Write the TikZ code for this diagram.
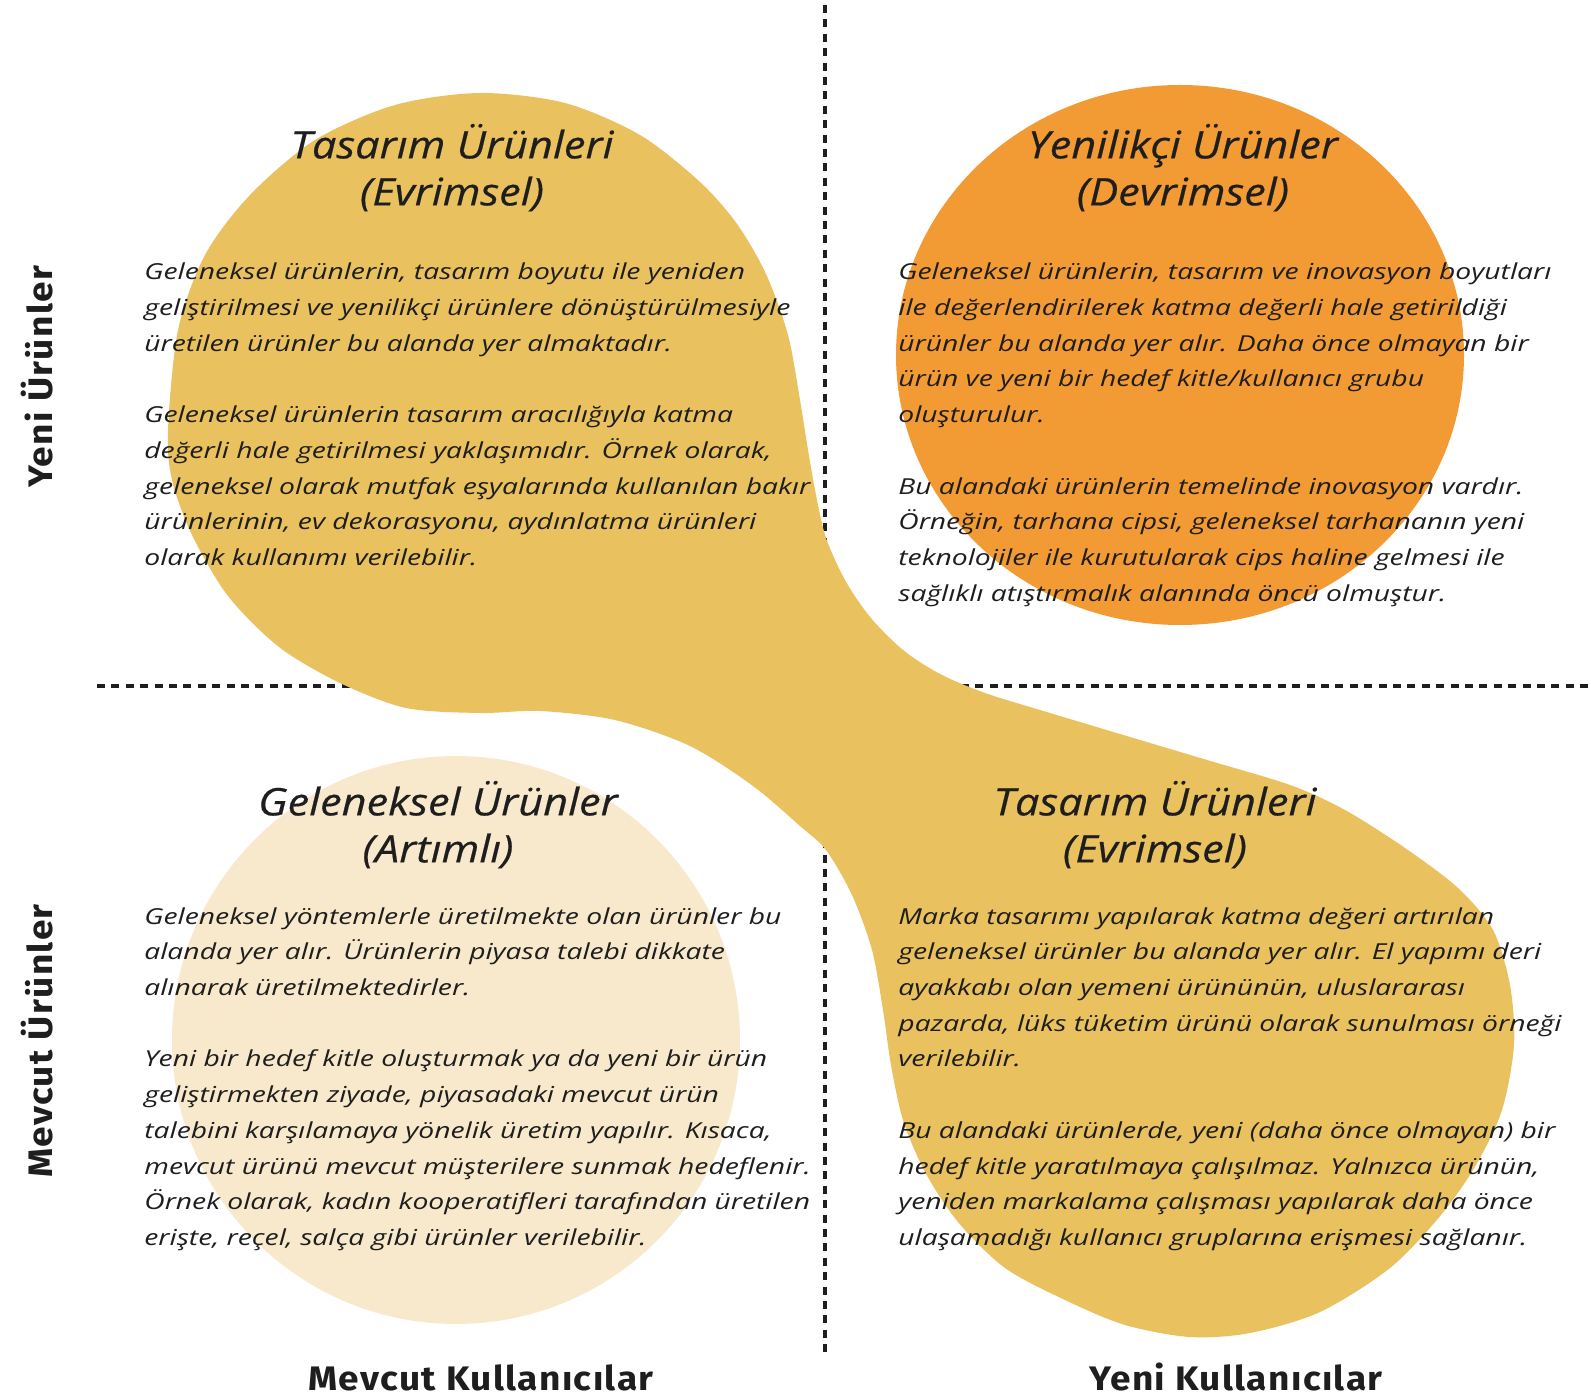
\documentclass[tikz,border=0pt]{standalone}
\usepackage{fontspec}
\setmainfont{Open Sans}
\newfontfamily\bodyfont{Open Sans}[FakeStretch=1.285]
\newfontfamily\headfont{Open Sans}[FakeBold=0.4,FakeStretch=1.14]
\newfontfamily\axisfont{Fira Sans}[LetterSpace=4,FakeStretch=1.09]
\definecolor{blobyellow}{HTML}{E9C15E}
\definecolor{orangec}{HTML}{F29A33}
\definecolor{beigec}{HTML}{F8E9CC}
\definecolor{inkc}{HTML}{1E1E1E}
\newcommand{\bstrut}{\rule{0pt}{16pt}}
\newcommand{\hstrut}{\rule{0pt}{24pt}}
\begin{document}
\begin{tikzpicture}[x=0.5pt,y=-0.5pt,
  body/.style={font=\bodyfont\itshape\fontsize{11}{17.85}\selectfont, text=inkc, align=left, anchor=north west, inner sep=0pt},
  head/.style={font=\headfont\itshape\fontsize{19}{23.5}\selectfont, text=inkc, align=center, anchor=north, inner sep=0pt},
  axislabel/.style={font=\axisfont\bfseries\fontsize{17}{20}\selectfont, text=inkc, inner sep=0pt},
  guide/.style={draw=inkc, line width=2pt, dash pattern=on 4pt off 3.2pt}]
\useasboundingbox (0,0) rectangle (1591,1400);
\fill[white] (0,0) rectangle (1591,1400);

% guide lines
\coordinate (vtop) at (825,5);
\coordinate (vbot) at (825,1355);
\coordinate (hleft) at (97,686);
\coordinate (hright) at (1591,686);
\draw[guide] (vtop) -- (vbot);
\draw[guide] (hleft) -- (hright);

% yellow blob
\fill[blobyellow] plot[smooth cycle, tension=0.5] coordinates {
 (168,430) (178,330) (205,255) (250,195) (315,140) (395,105) (480,93) (565,103)
 (640,135) (700,182) (737,224) (766,274) (788,335) (800,400) (808,450) (816,495) (826,538)
 (845,580) (870,617) (903,650) (940,674) (985,693) (1040,710) (1120,734) (1207,760)
 (1290,785) (1345,810) (1405,848) (1458,888) (1493,930) (1510,985) (1514,1045)
 (1502,1110) (1476,1165) (1441,1215) (1390,1268) (1320,1312) (1250,1333) (1190,1337)
 (1125,1325) (1065,1300) (1005,1268) (958,1222) (925,1172) (903,1120) (891,1065)
 (883,1010) (872,950) (852,895) (826,850) (800,826) (753,786) (690,746) (615,720)
 (540,711) (480,713) (406,708) (340,683) (279,647) (228,596) (192,535) (172,480)};

% orange and beige circles
\fill[orangec] (1180,355) ellipse [x radius=284, y radius=270];
\fill[beigec] (456,1040) circle [radius=284];

% headings
\node[head] (h1) at (452,110) {\hstrut Tasarım Ürünleri\\(Evrimsel)};
\node[head] (h2) at (1183,110) {\hstrut Yenilikçi Ürünler\\(Devrimsel)};
\node[head] (h3) at (438,767) {\hstrut Geleneksel Ürünler\\(Artımlı)};
\node[head] (h4) at (1155,767) {\hstrut Tasarım Ürünleri\\(Evrimsel)};

% body texts
\node[body] (b1) at (144,247.5) {\bstrut Geleneksel ürünlerin, tasarım boyutu ile yeniden\\
geliştirilmesi ve yenilikçi ürünlere dönüştürülmesiyle\\
üretilen ürünler bu alanda yer almaktadır.\\[17.85pt]
Geleneksel ürünlerin tasarım aracılığıyla katma\\
değerli hale getirilmesi yaklaşımıdır. Örnek olarak,\\
geleneksel olarak mutfak eşyalarında kullanılan bakır\\
ürünlerinin, ev dekorasyonu, aydınlatma ürünleri\\
olarak kullanımı verilebilir.};

\node[body] (b2) at (898,247.5) {\bstrut Geleneksel ürünlerin, tasarım ve inovasyon boyutları\\
ile değerlendirilerek katma değerli hale getirildiği\\
ürünler bu alanda yer alır. Daha önce olmayan bir\\
ürün ve yeni bir hedef kitle/kullanıcı grubu\\
oluşturulur.\\[17.85pt]
Bu alandaki ürünlerin temelinde inovasyon vardır.\\
Örneğin, tarhana cipsi, geleneksel tarhananın yeni\\
teknolojiler ile kurutularak cips haline gelmesi ile\\
sağlıklı atıştırmalık alanında öncü olmuştur.};

\node[body] (b3) at (144,891.7) {\bstrut Geleneksel yöntemlerle üretilmekte olan ürünler bu\\
alanda yer alır. Ürünlerin piyasa talebi dikkate\\
alınarak üretilmektedirler.\\[17.85pt]
Yeni bir hedef kitle oluşturmak ya da yeni bir ürün\\
geliştirmekten ziyade, piyasadaki mevcut ürün\\
talebini karşılamaya yönelik üretim yapılır. Kısaca,\\
mevcut ürünü mevcut müşterilere sunmak hedeflenir.\\
Örnek olarak, kadın kooperatifleri tarafından üretilen\\
erişte, reçel, salça gibi ürünler verilebilir.};

\node[body] (b4) at (898,891.7) {\bstrut Marka tasarımı yapılarak katma değeri artırılan\\
geleneksel ürünler bu alanda yer alır. El yapımı deri\\
ayakkabı olan yemeni ürününün, uluslararası\\
pazarda, lüks tüketim ürünü olarak sunulması örneği\\
verilebilir.\\[17.85pt]
Bu alandaki ürünlerde, yeni (daha önce olmayan) bir\\
hedef kitle yaratılmaya çalışılmaz. Yalnızca ürünün,\\
yeniden markalama çalışması yapılarak daha önce\\
ulaşamadığı kullanıcı gruplarına erişmesi sağlanır.};

% axis labels
\node[axislabel, rotate=90] (ay1) at (37,377) {Yeni Ürünler};
\node[axislabel, rotate=90] (ay2) at (37,1041) {Mevcut Ürünler};
\node[axislabel, anchor=base] (ax1) at (481,1390) {Mevcut Kullanıcılar};
\node[axislabel, anchor=base] (ax2) at (1236,1390) {Yeni Kullanıcılar};
\end{tikzpicture}
\end{document}
